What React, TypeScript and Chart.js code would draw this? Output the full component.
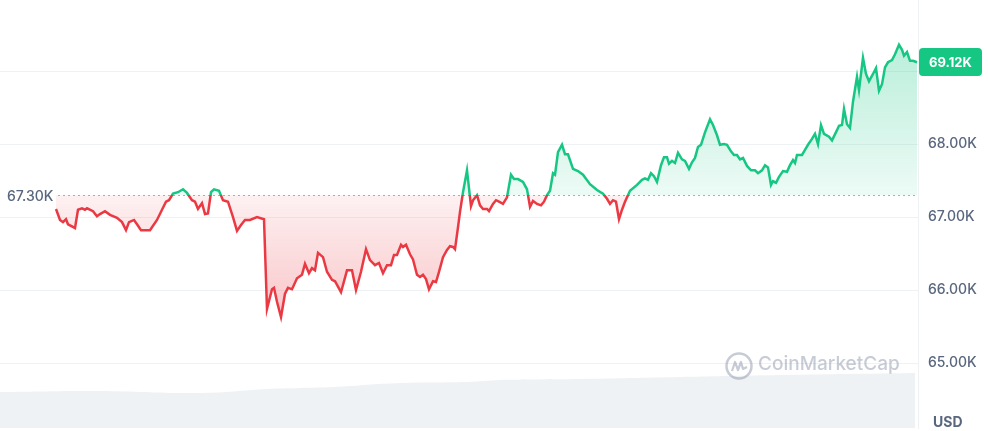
import React, { useEffect, useRef } from "react";
import { Chart, registerables } from "chart.js";

Chart.register(...registerables);

// time in 100-second steps from the first trade of the day
const timeSteps = [
  1, 5, 8, 11, 13, 20, 23, 27, 30, 32, 38, 42, 45, 50, 55, 62, 67, 71, 74, 79,
  82, 86, 95, 97, 102, 107, 111, 114, 118, 123, 128, 132, 137, 140, 143, 147, 150, 153, 156, 159,
  164, 168, 173, 178, 182, 186, 190, 195, 202, 209, 212, 217, 219, 222, 226, 230, 233, 237, 242, 247,
  250, 254, 257, 260, 263, 268, 272, 277, 280, 286, 292, 297, 301, 306, 311, 315, 320, 324, 328, 332,
  336, 339, 342, 346, 348, 351, 355, 358, 362, 365, 368, 371, 374, 378, 381, 384, 388, 392, 395, 398,
  400, 403, 405, 408, 412, 416, 418, 422, 425, 428, 432, 434, 438, 441, 444, 448, 452, 456, 459, 463,
  468, 472, 473, 475, 478, 482, 486, 489, 492, 495, 498, 500, 503, 507, 510, 513, 518, 523, 528, 535,
  542, 548, 552, 555, 558, 561, 564, 567, 570, 575, 582, 587, 590, 593, 596, 599, 602, 606, 609, 612,
  614, 617, 620, 623, 627, 630, 634, 637, 640, 643, 646, 650, 655, 658, 662, 665, 669, 672, 676, 679,
  682, 685, 688, 692, 696, 700, 703, 707, 710, 713, 716, 718, 721, 724, 728, 732, 735, 738, 740, 742,
  747, 750, 753, 757, 760, 763, 766, 769, 774, 777, 782, 784, 787, 789, 792, 795, 798, 800, 802, 804,
  808, 811, 814, 818, 821, 824, 827, 830, 833, 837, 840, 844, 847, 849, 852, 855, 858, 862,
];

const prices = [
  67110, 66960, 66930, 66970, 66900, 66850, 67100, 67120, 67100, 67120, 67080, 67010, 67040, 67080, 67030, 66990, 66930, 66820, 66930, 66960,
  66900, 66820, 66820, 66860, 66960, 67100, 67210, 67230, 67320, 67340, 67380, 67330, 67230, 67210, 67110, 67190, 67040, 67050, 67340, 67380,
  67360, 67230, 67210, 67000, 66810, 66890, 66960, 66960, 67000, 66970, 65740, 66010, 66030, 65840, 65630, 65950, 66030, 66010, 66160, 66210,
  66360, 66230, 66300, 66270, 66510, 66450, 66250, 66140, 66120, 65970, 66270, 66270, 66000, 66250, 66560, 66410, 66340, 66370, 66230, 66340,
  66340, 66480, 66480, 66620, 66590, 66620, 66490, 66420, 66210, 66180, 66210, 66150, 66010, 66120, 66110, 66250, 66450, 66550, 66600, 66590,
  66560, 66860, 67070, 67340, 67640, 67150, 67230, 67300, 67160, 67110, 67110, 67080, 67180, 67230, 67210, 67180, 67270, 67580, 67520, 67520,
  67480, 67380, 67300, 67140, 67220, 67180, 67160, 67210, 67300, 67360, 67600, 67580, 67890, 67990, 67860, 67860, 67660, 67630, 67580, 67450,
  67370, 67320, 67250, 67180, 67230, 67210, 66970, 67100, 67210, 67360, 67440, 67510, 67530, 67510, 67600, 67560, 67480, 67710, 67820, 67820,
  67730, 67770, 67740, 67880, 67790, 67770, 67660, 67750, 67810, 67960, 67990, 68160, 68340, 68260, 68120, 67990, 68000, 67990, 67900, 67850,
  67850, 67790, 67810, 67700, 67640, 67640, 67600, 67640, 67710, 67680, 67440, 67490, 67470, 67550, 67630, 67620, 67710, 67780, 67740, 67850,
  67850, 67920, 67990, 68070, 68140, 68000, 68260, 68140, 68100, 68050, 68190, 68250, 68260, 68480, 68270, 68220, 68580, 68750, 68920, 68740,
  69180, 68960, 68860, 68960, 69040, 68730, 68820, 69050, 69120, 69150, 69230, 69360, 69290, 69210, 69260, 69140, 69140, 69120,
];

// trading volume (billions USD), same time steps unit
const volumeSteps = [-55, 45, 145, 212, 245, 278, 345, 412, 445, 525, 625, 725, 860];
const volumes = [25.2, 25.9, 24.5, 27.3, 28.0, 28.7, 31.5, 32.2, 33.6, 34.3, 35.7, 37.1, 38.5];

const priceTicks = [65000, 66000, 67000, 68000, 69000];
const openPrice = 67300;
const openLabel = "67.30K";
const lastLabel = "69.12K";
const currencyLabel = "USD";
const watermarkText = "CoinMarketCap";

const GREEN = "#16c784";
const RED = "#ea3943";
const GREY = "#58667e";

const fmtK = (v: number) => (v / 1000).toFixed(2) + "K";

function baselineStop(chart: any) {
  const { chartArea, scales } = chart;
  const y = scales.y.getPixelForValue(openPrice);
  const s = (y - chartArea.top) / (chartArea.bottom - chartArea.top);
  return Math.min(1, Math.max(0, s));
}

const overlayPlugin = {
  id: "overlay",
  beforeDatasetsDraw(chart: any) {
    const { ctx, chartArea, scales } = chart;
    const y = Math.round(scales.y.getPixelForValue(openPrice)) + 0.5;
    const xStart = scales.x.getPixelForValue(timeSteps[0]);
    ctx.save();
    ctx.strokeStyle = "#a6b0c3";
    ctx.lineWidth = 1;
    ctx.setLineDash([2, 3]);
    ctx.beginPath();
    ctx.moveTo(xStart + 2, y);
    ctx.lineTo(chartArea.right, y);
    ctx.stroke();
    ctx.setLineDash([]);
    ctx.font = "500 14px Inter";
    ctx.fillStyle = GREY;
    ctx.textAlign = "left";
    ctx.textBaseline = "middle";
    ctx.fillText(openLabel, 7, y + 1);
    ctx.restore();
  },
  afterDatasetsDraw(chart: any) {
    const { ctx } = chart;
    ctx.save();
    const cx = 739, cy = 366, r = 12.5;
    ctx.strokeStyle = "rgba(120,132,155,0.42)";
    ctx.lineWidth = 2.5;
    ctx.beginPath();
    ctx.arc(cx, cy, r, 0, Math.PI * 2);
    ctx.stroke();
    ctx.lineWidth = 2.2;
    ctx.lineJoin = "round";
    ctx.beginPath();
    ctx.moveTo(cx - 7, cy + 5);
    ctx.lineTo(cx - 4, cy - 4);
    ctx.lineTo(cx - 1, cy + 4);
    ctx.lineTo(cx + 2, cy - 4);
    ctx.lineTo(cx + 4, cy + 3);
    ctx.lineTo(cx + 8, cy + 1);
    ctx.stroke();
    ctx.fillStyle = "rgba(120,132,155,0.42)";
    ctx.font = "500 19px Inter";
    ctx.textAlign = "left";
    ctx.textBaseline = "alphabetic";
    ctx.fillText(watermarkText, 758, 370);
    ctx.restore();
  },
  afterDraw(chart: any) {
    const { ctx, scales } = chart;
    const lastY = scales.y.getPixelForValue(prices[prices.length - 1]);
    ctx.save();
    const bx = 919, bw = 63, bh = 28, by = Math.round(lastY - bh / 2);
    ctx.fillStyle = GREEN;
    ctx.beginPath();
    (ctx as any).roundRect(bx, by, bw, bh, 4);
    ctx.fill();
    ctx.fillStyle = "#ffffff";
    ctx.font = "700 13px Inter";
    ctx.textAlign = "center";
    ctx.textBaseline = "middle";
    ctx.fillText(lastLabel, bx + bw / 2, by + bh / 2 + 1);
    ctx.fillStyle = GREY;
    ctx.font = "700 14px Inter";
    ctx.textAlign = "left";
    ctx.fillText(currencyLabel, 933, 423);
    ctx.restore();
  },
};

export default function App() {
  const ref = useRef<HTMLCanvasElement | null>(null);

  useEffect(() => {
    if (!ref.current) return;
    const chart = new Chart(ref.current, {
      type: "line",
      data: {
        datasets: [
          {
            label: "Price",
            data: timeSteps.map((t, i) => ({ x: t, y: prices[i] })),
            yAxisID: "y",
            borderWidth: 2.5,
            pointRadius: 0,
            tension: 0,
            fill: { target: { value: openPrice } },
            borderColor: (c: any) => {
              const chart = c.chart;
              if (!chart.chartArea) return GREEN;
              const { chartArea } = chart;
              const s = baselineStop(chart);
              const g = chart.ctx.createLinearGradient(0, chartArea.top, 0, chartArea.bottom);
              g.addColorStop(0, GREEN);
              g.addColorStop(s, GREEN);
              g.addColorStop(s, RED);
              g.addColorStop(1, RED);
              return g;
            },
            backgroundColor: (c: any) => {
              const chart = c.chart;
              if (!chart.chartArea) return "rgba(22,199,132,0.2)";
              const { chartArea, scales } = chart;
              const s = baselineStop(chart);
              const h = chartArea.bottom - chartArea.top;
              const low = Math.min(1, Math.max(s, (scales.y.getPixelForValue(65700) - chartArea.top) / h));
              const g = chart.ctx.createLinearGradient(0, chartArea.top, 0, chartArea.bottom);
              g.addColorStop(0, "rgba(22,199,132,0.36)");
              g.addColorStop(s, "rgba(22,199,132,0.08)");
              g.addColorStop(s, "rgba(234,57,67,0.07)");
              g.addColorStop(low, "rgba(234,57,67,0.28)");
              g.addColorStop(1, "rgba(234,57,67,0.28)");
              return g;
            },
          },
          {
            label: "Volume",
            data: volumeSteps.map((t, i) => ({ x: t, y: volumes[i] })),
            yAxisID: "y2",
            borderWidth: 0,
            pointRadius: 0,
            tension: 0.4,
            fill: "origin",
            backgroundColor: "#eff2f5",
            borderColor: "rgba(0,0,0,0)",
          },
        ],
      },
      options: {
        responsive: false,
        animation: false,
        devicePixelRatio: 1,
        layout: { padding: { top: 0, left: 0, right: 0, bottom: 3 } },
        plugins: {
          legend: { display: false },
          tooltip: { enabled: false },
        },
        scales: {
          x: {
            type: "linear",
            display: false,
            min: -55,
            max: 863,
          },
          y: {
            type: "linear",
            position: "right",
            min: 64110,
            max: 69973,
            afterBuildTicks: (scale: any) => {
              scale.ticks = priceTicks.map((v) => ({ value: v }));
            },
            afterFit: (scale: any) => {
              scale.width = 70;
              scale.paddingTop = 0;
              scale.paddingBottom = 0;
            },
            grid: { color: "#eff2f5", drawTicks: false, lineWidth: 1 },
            border: { display: true, color: "#eff2f5" },
            ticks: {
              padding: 10,
              color: GREY,
              font: { family: "Inter", size: 14, weight: "500" },
              callback: (v: any) => fmtK(Number(v)),
            },
          },
          y2: {
            type: "linear",
            display: false,
            min: 0,
            max: 300,
          },
        },
      },
      plugins: [overlayPlugin],
    } as any);
    return () => chart.destroy();
  }, []);

  return (
    <div style={{ position: "absolute", left: 0, top: 0, width: 988, height: 431, background: "#ffffff" }}>
      <canvas ref={ref} width={988} height={431} style={{ display: "block" }} />
    </div>
  );
}
